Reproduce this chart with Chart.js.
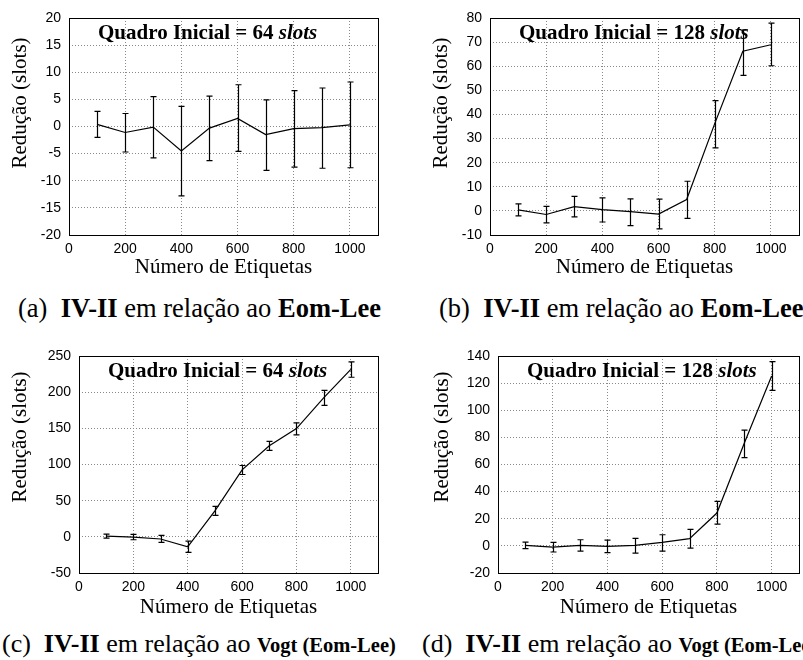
<!DOCTYPE html>
<html>
<head>
<meta charset="utf-8">
<script src="https://cdn.jsdelivr.net/npm/chart.js@4"></script>
<style>
body { margin: 0; background: #fff; width: 803px; height: 660px; position: relative; overflow: hidden; font-family: 'Liberation Serif', 'Times New Roman', serif; }
.painel { position: absolute; }
.legenda { position: absolute; white-space: nowrap; line-height: 1; color: #000; }
</style>
</head>
<body>
<div class="painel" style="left:0;top:0"><canvas id="ga" width="400" height="285"></canvas></div>
<div class="painel" style="left:400px;top:0"><canvas id="gb" width="403" height="285"></canvas></div>
<div class="painel" style="left:0;top:330px"><canvas id="gc" width="400" height="295"></canvas></div>
<div class="painel" style="left:400px;top:330px"><canvas id="gd" width="403" height="295"></canvas></div>

<div class="legenda" style="left:18px;top:295px;font-size:26.5px">(a)&nbsp; <b>IV-II</b> em relação ao <b>Eom-Lee</b></div>
<div class="legenda" style="left:439px;top:295px;font-size:26.5px">(b)&nbsp; <b>IV-II</b> em relação ao <b>Eom-Lee</b></div>
<div class="legenda" style="left:2px;top:631px;font-size:26px">(c)&nbsp; <b>IV-II</b> em relação ao <b style="font-size:20.5px">Vogt (Eom-Lee)</b></div>
<div class="legenda" style="left:422px;top:631px;font-size:26px">(d)&nbsp; <b>IV-II</b> em relação ao <b style="font-size:20.5px">Vogt (Eom-Lee)</b></div>

<script>
const etiquetas = [100, 200, 300, 400, 500, 600, 700, 800, 900, 1000];

// (a) quadro inicial 64, IV-II vs Eom-Lee
const reducaoA = [0.4, -1.1, -0.1, -4.5, -0.3, 1.5, -1.5, -0.4, -0.2, 0.3];
const minA = [-2.0, -4.7, -5.8, -12.8, -6.3, -4.6, -8.1, -7.5, -7.7, -7.6];
const maxA = [2.8, 2.4, 5.5, 3.7, 5.6, 7.7, 4.9, 6.6, 7.1, 8.2];

// (b) quadro inicial 128, IV-II vs Eom-Lee
const reducaoB = [0.4, -1.5, 1.8, 0.5, -0.3, -1.3, 4.7, 36.2, 66.2, 68.9];
const minB = [-2.1, -5.0, -2.5, -4.6, -6.1, -7.5, -3.1, 26.1, 56.2, 60.2];
const maxB = [2.9, 1.9, 6.0, 5.4, 5.0, 4.9, 12.3, 45.7, 75.0, 77.9];

// (c) quadro inicial 64, IV-II vs Vogt (Eom-Lee)
const reducaoC = [1.0, -0.3, -3.0, -13.7, 36.0, 92.6, 125.8, 149.7, 192.0, 231.5];
const minC = [-1.7, -4.0, -7.7, -21.5, 29.6, 86.2, 119.4, 141.0, 181.8, 220.6];
const maxC = [3.8, 3.4, 2.0, -5.8, 42.0, 98.6, 132.0, 157.6, 202.5, 242.0];

// (d) quadro inicial 128, IV-II vs Vogt (Eom-Lee)
const reducaoD = [0.4, -0.9, 0.4, -0.4, 0.4, 2.6, 5.3, 24.2, 75.7, 125.3];
const minD = [-2.1, -4.5, -3.8, -5.0, -5.3, -3.8, -1.6, 16.1, 65.1, 114.7];
const maxD = [2.8, 2.6, 4.5, 4.3, 5.5, 8.2, 12.1, 32.8, 85.3, 135.8];

// eixo y: [min, max, passo]
const eixoA = [-20, 20, 5];
const eixoB = [-10, 80, 10];
const eixoC = [-50, 250, 50];
const eixoD = [-20, 140, 20];
const eixoX = [0, 1100, 200];

const fonteTick = { family: "'Liberation Sans', Arial, sans-serif", size: 14 };
const serifa = "'Liberation Serif', 'Times New Roman', serif";

function grafico(id, valores, baixo, alto, eixo, quadro, p) {
  const extras = {
    id: 'extras' + id,
    afterDatasetsDraw(chart) {
      const { ctx, chartArea: a, scales: { x, y } } = chart;
      ctx.save();
      // barras de erro
      ctx.strokeStyle = '#000';
      ctx.lineWidth = 1.2;
      etiquetas.forEach((e, i) => {
        const px = Math.round(x.getPixelForValue(e)) + 0.5;
        const y1 = y.getPixelForValue(baixo[i]);
        const y2 = y.getPixelForValue(alto[i]);
        ctx.beginPath();
        ctx.moveTo(px, y1); ctx.lineTo(px, y2);
        ctx.moveTo(px - 3, y1); ctx.lineTo(px + 3, y1);
        ctx.moveTo(px - 3, y2); ctx.lineTo(px + 3, y2);
        ctx.stroke();
      });
      // moldura
      ctx.lineWidth = 1;
      ctx.strokeRect(Math.round(a.left) + 0.5, Math.round(a.top) + 0.5,
        Math.round(a.right - a.left), Math.round(a.bottom - a.top));
      // texto interno
      ctx.fillStyle = '#000';
      ctx.textBaseline = 'alphabetic';
      ctx.textAlign = 'left';
      const t1 = 'Quadro Inicial = ' + quadro + ' ';
      ctx.font = 'bold 21px ' + serifa;
      const tx = a.left + 29, ty = a.top + 21;
      ctx.fillText(t1, tx, ty);
      const w1 = ctx.measureText(t1).width;
      ctx.font = 'italic bold 21px ' + serifa;
      ctx.fillText('slots', tx + w1, ty);
      // titulo do eixo y
      ctx.translate(a.left - p.yt, a.top + p.yc);
      ctx.rotate(-Math.PI / 2);
      ctx.textAlign = 'center';
      ctx.textBaseline = 'middle';
      ctx.font = '21px ' + serifa;
      ctx.fillText('Redução (slots)', 0, 0);
      ctx.restore();
    }
  };

  return new Chart(document.getElementById(id), {
    type: 'line',
    data: {
      datasets: [{
        data: etiquetas.map((e, i) => ({ x: e, y: valores[i] })),
        borderColor: '#000',
        borderWidth: 1.2,
        pointRadius: 0,
        fill: false,
        tension: 0
      }]
    },
    options: {
      responsive: false,
      animation: false,
      layout: { padding: { top: p.top, right: p.right, left: 0, bottom: 0 } },
      plugins: { legend: { display: false }, tooltip: { enabled: false } },
      scales: {
        x: {
          type: 'linear',
          min: eixoX[0], max: eixoX[1],
          afterFit(s) { s.height = p.xh; },
          ticks: { stepSize: eixoX[2], includeBounds: false, color: '#000', font: fonteTick, padding: 6, maxRotation: 0,
            callback: v => String(v) },
          grid: { color: '#8a8a8a', drawTicks: false },
          border: { display: false, dash: [1, 2] },
          title: { display: true, text: 'Número de Etiquetas', color: '#000',
            font: { family: serifa, size: 21 }, padding: { top: 0, bottom: 5 } }
        },
        y: {
          min: eixo[0], max: eixo[1],
          afterFit(s) { s.width = p.yw; },
          ticks: { stepSize: eixo[2], color: '#000', font: fonteTick, padding: 8 },
          grid: { color: '#8a8a8a', drawTicks: false },
          border: { display: false, dash: [1, 2] }
        }
      }
    },
    plugins: [extras]
  });
}

grafico('ga', reducaoA, minA, maxA, eixoA, 64, { top: 18, right: 22, yw: 69, xh: 50, yt: 49, yc: 85 });
grafico('gb', reducaoB, minB, maxB, eixoB, 128, { top: 18, right: 4, yw: 90, xh: 50, yt: 49, yc: 85 });
grafico('gc', reducaoC, minC, maxC, eixoC, 64, { top: 26, right: 22, yw: 79, xh: 52, yt: 59, yc: 81 });
grafico('gd', reducaoD, minD, maxD, eixoD, 128, { top: 26, right: 4, yw: 98, xh: 52, yt: 56, yc: 81 });
</script>
</body>
</html>
